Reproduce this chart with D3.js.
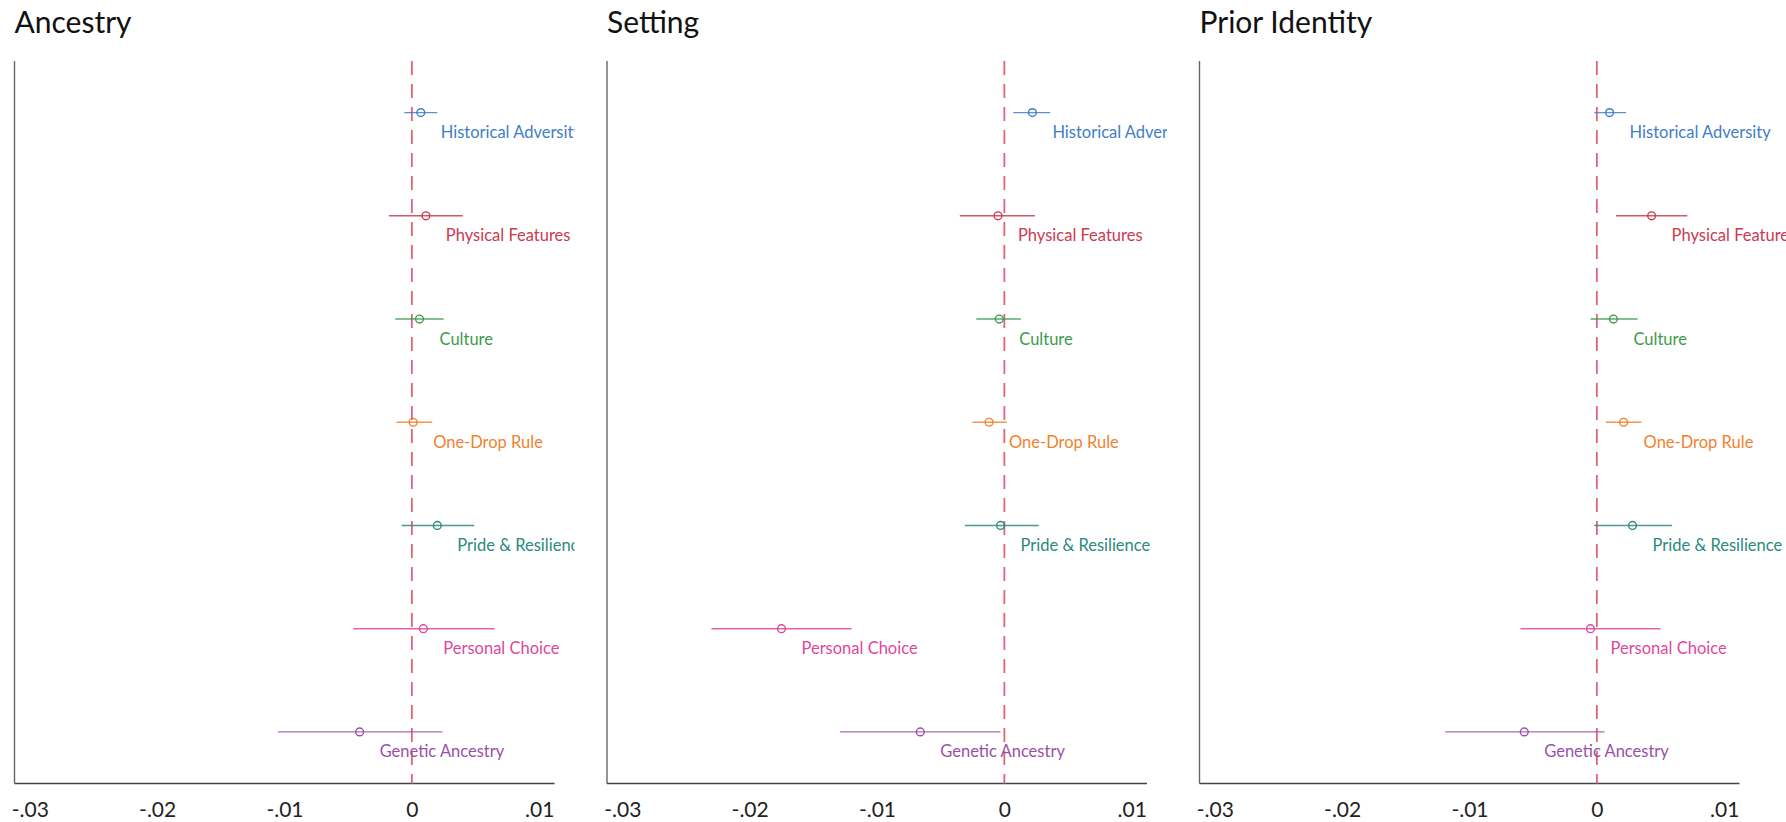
<!DOCTYPE html>
<html>
<head>
<meta charset="utf-8">
<script src="https://cdn.jsdelivr.net/npm/d3@7"></script>
<style>
  html, body { margin: 0; padding: 0; background: #fff; }
  svg { display: block; }
  text { font-family: Lato, "Open Sans", sans-serif; }
</style>
</head>
<body>
<svg id="chart" width="1786" height="822"></svg>
<script>
// Attributes, top to bottom
const categories = ["Historical Adversity", "Physical Features", "Culture", "One-Drop Rule",
                    "Pride & Resilience", "Personal Choice", "Genetic Ancestry"];
const colors = ["#3f7ec6", "#cc3a50", "#3e9a4e", "#f0822f", "#2b8a7e", "#e0479b", "#9a50a8"];

const panelTitles = ["Ancestry", "Setting", "Prior Identity"];
const tickValues = [-0.03, -0.02, -0.01, 0, 0.01];
const tickLabels = ["-.03", "-.02", "-.01", "0", ".01"];

// Point estimates and 95% intervals per panel
const ancestryEst = [0.0007, 0.0011, 0.0006, 0.0001, 0.0020, 0.0009, -0.0041];
const ancestryLo  = [-0.0006, -0.0018, -0.0013, -0.0012, -0.0008, -0.0046, -0.0105];
const ancestryHi  = [0.0020, 0.0040, 0.0025, 0.0016, 0.0049, 0.0065, 0.0024];

const settingEst = [0.0022, -0.0005, -0.0004, -0.0012, -0.0003, -0.0175, -0.0066];
const settingLo  = [0.0007, -0.0035, -0.0022, -0.0025, -0.0031, -0.0230, -0.0129];
const settingHi  = [0.0036, 0.0024, 0.0013, 0.0002, 0.0027, -0.0120, -0.0003];

const priorEst = [0.0010, 0.0043, 0.0013, 0.0021, 0.0028, -0.0005, -0.0057];
const priorLo  = [-0.0002, 0.0015, -0.0005, 0.0007, -0.0002, -0.0060, -0.0119];
const priorHi  = [0.0023, 0.0071, 0.0032, 0.0035, 0.0059, 0.0050, 0.0006];

const panels = [
  { title: panelTitles[0], est: ancestryEst, lo: ancestryLo, hi: ancestryHi },
  { title: panelTitles[1], est: settingEst,  lo: settingLo,  hi: settingHi },
  { title: panelTitles[2], est: priorEst,    lo: priorLo,    hi: priorHi }
];

const svg = d3.select("#chart");
const panelLefts = [14.5, 607, 1199.5];
const plotW = 540, plotTop = 61, plotBottom = 783.5;

const x = d3.scaleLinear().domain([-0.0312, 0.0112]).range([0, plotW]);
const y = d3.scalePoint().domain(categories).range([plotTop, plotBottom]).padding(0.5);

const defs = svg.append("defs");

panels.forEach((p, pi) => {
  const g = svg.append("g").attr("transform", `translate(${panelLefts[pi]},0)`);

  // label clip: each panel's text stops short of the next panel
  const clipId = "clip" + pi;
  defs.append("clipPath").attr("id", clipId)
    .append("rect").attr("x", -20).attr("y", 0)
    .attr("width", pi < 2 ? 580 : 800).attr("height", 822);

  g.append("text")
    .attr("x", 0).attr("y", 33)
    .attr("font-size", 30).attr("fill", "#111")
    .text(p.title);

  // axes
  g.append("line").attr("x1", 0).attr("x2", 0).attr("y1", plotTop).attr("y2", plotBottom)
    .attr("stroke", "#666").attr("stroke-width", 1.4);
  g.append("line").attr("x1", 0).attr("x2", plotW).attr("y1", plotBottom).attr("y2", plotBottom)
    .attr("stroke", "#444").attr("stroke-width", 1.4);

  const xAxis = d3.axisBottom(x).tickValues(tickValues)
    .tickFormat((d, i) => tickLabels[i]).tickSize(0).tickPadding(0);
  const ax = g.append("g").attr("transform", `translate(0,${plotBottom})`).call(xAxis);
  ax.select(".domain").remove();
  ax.selectAll("text")
    .attr("dy", null).attr("y", 33)
    .attr("font-size", 21).attr("fill", "#222")
    .style("font-family", "Lato, 'Open Sans', sans-serif");

  // zero reference
  g.append("line").attr("x1", x(0)).attr("x2", x(0)).attr("y1", plotTop).attr("y2", plotBottom)
    .attr("stroke", "#e06478").attr("stroke-width", 1.8)
    .attr("stroke-dasharray", "14,9");

  const rows = g.append("g").attr("clip-path", `url(#${clipId})`)
    .selectAll("g").data(categories).join("g");

  rows.append("line")
    .attr("x1", (d, i) => x(p.lo[i])).attr("x2", (d, i) => x(p.hi[i]))
    .attr("y1", d => y(d)).attr("y2", d => y(d))
    .attr("stroke", (d, i) => colors[i]).attr("stroke-width", 1.4)
    .attr("stroke-opacity", 0.85);

  rows.append("circle")
    .attr("cx", (d, i) => x(p.est[i])).attr("cy", d => y(d)).attr("r", 3.9)
    .attr("fill", "none").attr("stroke", (d, i) => colors[i]).attr("stroke-width", 1.4);

  rows.append("text")
    .attr("x", (d, i) => x(p.est[i]) + 20).attr("y", d => y(d) + 25.5)
    .attr("font-size", 16.5).attr("fill", (d, i) => colors[i])
    .text(d => d);
});
</script>
</body>
</html>
